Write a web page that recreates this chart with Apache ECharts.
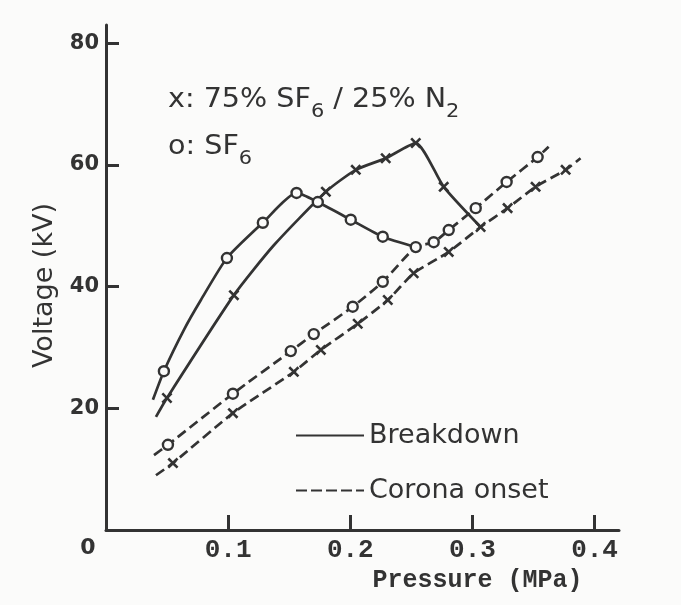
<!DOCTYPE html>
<html>
<head>
<meta charset="utf-8">
<script src="https://cdn.jsdelivr.net/npm/echarts@6/dist/echarts.min.js"></script>
<style>
  html, body { margin: 0; padding: 0; background: #fbfbfa; }
  #chart { width: 681px; height: 605px; }
</style>
</head>
<body>
<div id="chart"></div>
<script>
// Breakdown and corona-onset voltage (kV) against gas pressure (MPa).
// "measured" flags: 1 = measured point (drawn with a marker), 0 = end / bend of the drawn curve.
const sf6BreakdownP = [0.0384, 0.0474, 0.0638, 0.0777, 0.0990, 0.1284, 0.1560, 0.1734, 0.2004, 0.2266, 0.2536];
const sf6BreakdownV = [21.4, 26.1, 32.9, 37.8, 44.7, 50.5, 55.4, 53.9, 51.0, 48.2, 46.5];
const sf6BreakdownMeasured = [0, 1, 0, 0, 1, 1, 1, 1, 1, 1, 0];

const mixBreakdownP = [0.0409, 0.0499, 0.1047, 0.1374, 0.1800, 0.2045, 0.2290, 0.2536, 0.2765, 0.3067];
const mixBreakdownV = [18.6, 21.7, 38.6, 46.8, 55.6, 59.2, 61.1, 63.6, 56.4, 49.8];
const mixBreakdownMeasured = [0, 1, 1, 0, 1, 1, 1, 1, 1, 0];

const sf6CoronaP = [0.0393, 0.0507, 0.1039, 0.1513, 0.1701, 0.2020, 0.2266, 0.2536, 0.2683, 0.2806, 0.3027, 0.3280, 0.3534, 0.3624];
const sf6CoronaV = [12.3, 14.0, 22.4, 29.4, 32.2, 36.7, 40.8, 46.5, 47.3, 49.3, 52.9, 57.2, 61.3, 63.0];
const sf6CoronaMeasured = [0, 1, 1, 1, 1, 1, 1, 1, 1, 1, 1, 1, 1, 0];

const mixCoronaP = [0.0409, 0.0548, 0.1039, 0.1538, 0.1759, 0.2061, 0.2307, 0.2519, 0.2806, 0.3067, 0.3288, 0.3517, 0.3763, 0.3885];
const mixCoronaV = [9.0, 11.0, 19.2, 26.0, 29.6, 33.9, 37.8, 42.2, 45.7, 49.8, 52.9, 56.4, 59.2, 61.1];
const mixCoronaMeasured = [0, 1, 1, 1, 1, 1, 1, 1, 1, 1, 1, 1, 1, 0];

const yTicks = [20, 40, 60, 80];
const xTicks = [0.1, 0.2, 0.3, 0.4];
const xLabels = [0, 0.1, 0.2, 0.3, 0.4];

const INK = '#333333';
const PAPER = '#fbfbfa';
const CROSS = 'path://M4,0H6V4H10V6H6V10H4V6H0V4H4Z';
const SANS = 'DejaVu Sans';
const MONO = 'Liberation Mono';

function points(ps, vs, flags, symbol) {
  return ps.map((p, i) => ({
    value: [p, vs[i]],
    symbol: flags[i] ? symbol : 'none'
  }));
}

function curve(name, ps, vs, flags, kind, dashed) {
  const isCross = kind === 'x';
  return {
    name: name,
    type: 'line',
    smooth: 0.2,
    data: points(ps, vs, flags, isCross ? CROSS : 'circle'),
    symbolSize: isCross ? 13 : 10,
    symbolRotate: isCross ? 45 : 0,
    lineStyle: { color: INK, width: 2.7, type: dashed ? [10, 5] : 'solid' },
    itemStyle: isCross
      ? { color: INK }
      : { color: PAPER, borderColor: INK, borderWidth: 2.4 },
    emphasis: { disabled: true },
    z: isCross ? 3 : 4
  };
}

const chart = echarts.init(document.getElementById('chart'), null, { renderer: 'canvas' });

chart.setOption({
  backgroundColor: PAPER,
  animation: false,
  grid: { left: 106, right: 62, top: 25, bottom: 75, containLabel: false },
  xAxis: {
    type: 'value', min: 0, max: 0.42,
    name: 'Pressure (MPa)', nameLocation: 'middle', nameGap: 37,
    nameTextStyle: { fontFamily: MONO, fontWeight: 'bold', fontSize: 25, color: INK, padding: [0, 0, 0, 230] },
    axisLine: { show: true, lineStyle: { color: INK, width: 3 } },
    axisTick: { show: true, inside: true, length: 15, customValues: xTicks, lineStyle: { color: INK, width: 3 } },
    axisLabel: {
      customValues: xLabels, margin: 7,
      fontFamily: MONO, fontWeight: 'bold', fontSize: 26, color: INK,
      formatter: v => v === 0 ? '{z|0}' : v.toFixed(1),
      rich: { z: { fontFamily: SANS, fontWeight: 'bold', fontSize: 22, color: INK, padding: [0, 36, 0, 0] } }
    },
    splitLine: { show: false }
  },
  yAxis: {
    type: 'value', min: 0, max: 83,
    name: 'Voltage (kV)', nameLocation: 'middle', nameRotate: 90, nameGap: 48,
    nameTextStyle: { fontFamily: SANS, fontSize: 27, color: INK, padding: [0, 16, 0, 0] },
    axisLine: { show: true, lineStyle: { color: INK, width: 3 } },
    axisTick: { show: true, inside: true, length: 13, customValues: yTicks, lineStyle: { color: INK, width: 3 } },
    axisLabel: { customValues: yTicks, margin: 7, fontFamily: SANS, fontWeight: 'bold', fontSize: 21, color: INK },
    splitLine: { show: false }
  },
  legend: {
    orient: 'vertical', left: 290, top: 417,
    itemWidth: 68, itemHeight: 14, itemGap: 28,
    selectedMode: false,
    itemStyle: { color: 'rgba(0,0,0,0)', borderWidth: 0, opacity: 0 },
    textStyle: { fontFamily: SANS, fontSize: 27, color: INK },
    data: ['Breakdown', 'Corona onset']
  },
  graphic: [
    {
      type: 'text', x: 168, y: 78, scaleX: 1.1,
      style: {
        text: '{m|x: 75% SF}{s|6}{m| / 25% N}{s|2}',
        fill: INK,
        rich: {
          m: { fontFamily: SANS, fontSize: 26, lineHeight: 44, fill: INK },
          s: { fontFamily: SANS, fontSize: 19, lineHeight: 19, verticalAlign: 'bottom', fill: INK }
        }
      }
    },
    {
      type: 'text', x: 168, y: 125, scaleX: 1.1,
      style: {
        text: '{m|o: SF}{s|6}',
        fill: INK,
        rich: {
          m: { fontFamily: SANS, fontSize: 26, lineHeight: 44, fill: INK },
          s: { fontFamily: SANS, fontSize: 19, lineHeight: 19, verticalAlign: 'bottom', fill: INK }
        }
      }
    }
  ],
  series: [
    curve('SF6 breakdown', sf6BreakdownP, sf6BreakdownV, sf6BreakdownMeasured, 'o', false),
    curve('75% SF6 / 25% N2 breakdown', mixBreakdownP, mixBreakdownV, mixBreakdownMeasured, 'x', false),
    curve('SF6 corona onset', sf6CoronaP, sf6CoronaV, sf6CoronaMeasured, 'o', true),
    curve('75% SF6 / 25% N2 corona onset', mixCoronaP, mixCoronaV, mixCoronaMeasured, 'x', true),
    { name: 'Breakdown', type: 'line', data: [], symbol: 'none',
      lineStyle: { color: INK, width: 2.7 }, itemStyle: { color: INK } },
    { name: 'Corona onset', type: 'line', data: [], symbol: 'none',
      lineStyle: { color: INK, width: 2.7, type: [11, 4] }, itemStyle: { color: INK } }
  ]
});
</script>
</body>
</html>
